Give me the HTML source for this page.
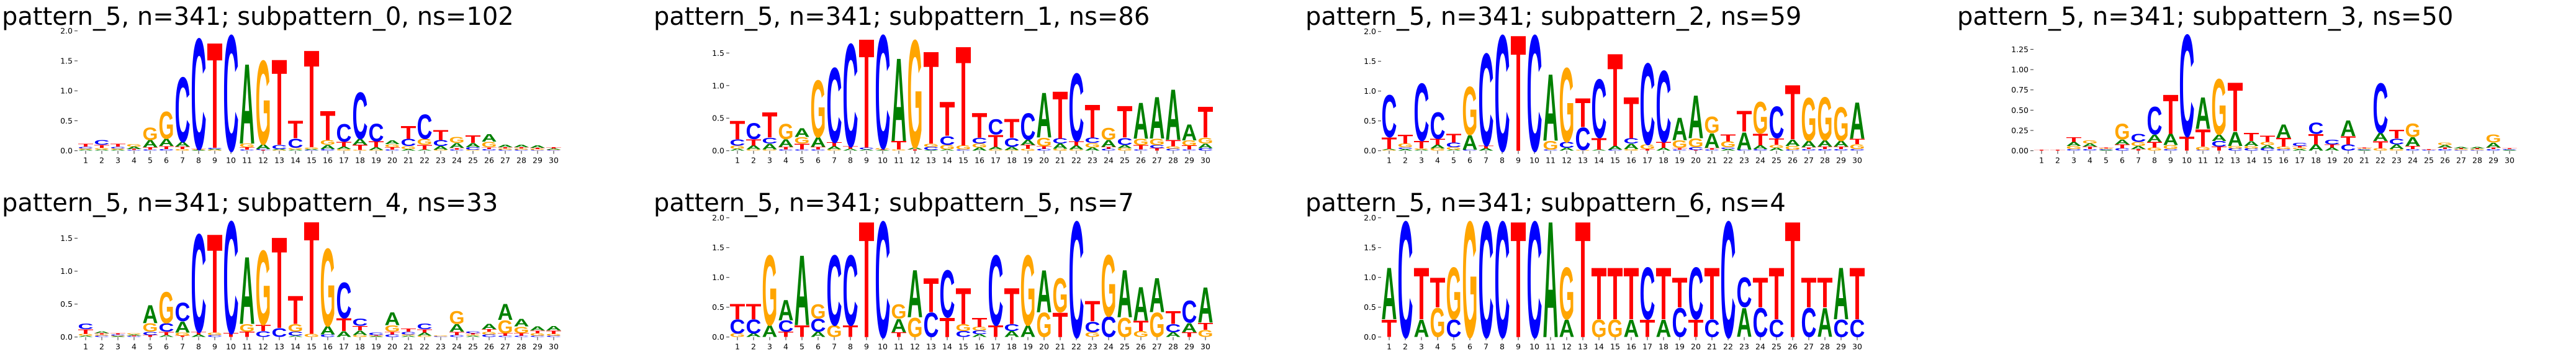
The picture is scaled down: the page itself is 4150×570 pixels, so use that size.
<!DOCTYPE html>
<html><head><meta charset="utf-8">
<style>
html,body{margin:0;padding:0;background:#fff;width:4150px;height:570px;overflow:hidden;}
svg{display:block;}
</style></head>
<body>
<svg id="fig" width="4150" height="570" viewBox="0 0 4150 570" xmlns="http://www.w3.org/2000/svg"></svg>
<script>
const titles = ["pattern_5, n=341; subpattern_0, ns=102","pattern_5, n=341; subpattern_1, ns=86","pattern_5, n=341; subpattern_2, ns=59","pattern_5, n=341; subpattern_3, ns=50","pattern_5, n=341; subpattern_4, ns=33","pattern_5, n=341; subpattern_5, ns=7","pattern_5, n=341; subpattern_6, ns=4"];
const positions = [1,2,3,4,5,6,7,8,9,10,11,12,13,14,15,16,17,18,19,20,21,22,23,24,25,26,27,28,29,30];
const ticks0 = ["0.0","0.5","1.0","1.5","2.0"];
const ticks1 = ["0.0","0.5","1.0","1.5"];
const ticks3 = ["0.00","0.25","0.50","0.75","1.00","1.25"];
const p1A=[.02,.02,.02,.04,.12,.12,.08,.01,.02,0,1.37,.08,.02,.02,.02,.07,.04,.1,.05,.06,.03,.02,.06,.08,.07,.13,.04,.04,.04,.02];
const p1C=[.03,.08,.03,.01,.02,.03,1.11,1.9,.02,1.99,.02,.02,.07,.16,.01,.03,.3,.8,.3,.02,.12,.42,.1,.02,.04,.03,.02,.02,.01,.01];
const p1G=[.02,.03,.02,.04,.21,.47,.03,.01,.01,0,.06,1.44,.01,.03,.03,.08,.03,.01,.01,.05,.05,.1,.02,.1,.02,.09,.02,.02,.02,.01];
const p1T=[.05,.05,.05,.02,.04,.05,.04,.01,1.81,0,.04,.01,1.47,.3,1.67,.5,.08,.09,.1,.04,.22,.08,.17,.03,.13,.03,.02,.02,.02,.02];
const p2A=[.03,.06,.09,.12,.14,.15,.05,.03,.02,.01,1.31,.03,.01,.02,0,.05,.04,.05,.08,.71,.08,.06,.05,.11,.05,.57,.66,.8,.25,.07];
const p2C=[.1,.25,.09,.02,.02,.02,1.18,1.62,.03,1.79,0,0,.05,.14,.02,.09,.24,.14,.42,.03,.08,1.07,.08,.03,.11,.02,.05,.03,.02,.04];
const p2G=[.05,.02,.02,.24,.1,.9,.02,0,0,.02,.02,1.7,.05,.07,.06,.06,.02,.01,.03,.13,.03,.02,.07,.19,.04,.1,.1,.04,.08,.09];
const p2T=[.29,.1,.4,.04,.09,.04,.06,.04,1.72,.01,.13,.02,1.46,.54,1.57,.39,.19,.3,.06,.04,.75,.07,.52,.03,.5,.07,.04,.1,.06,.49];
const p3A=[.02,.03,.02,.06,.02,.25,.04,0,0,0,1.15,.05,0,.02,.06,.09,0,.05,.39,.74,.25,.03,.3,.06,.05,.11,.11,.11,.1,.63];
const p3C=[.73,.03,.99,.46,.08,.02,1.59,2.0,0,2.0,.02,.1,.39,1.01,.02,.09,1.4,1.23,.02,.05,.02,.03,.02,.03,.55,.02,.03,.03,.03,.03];
const p3G=[.01,.06,.02,.04,.04,.83,0,0,0,0,.15,1.28,.01,0,0,.03,.08,0,.13,.15,.28,.1,0,.55,.05,.06,.74,.74,.58,.08];
const p3T=[.2,.15,.13,.1,.15,0,.05,0,2.0,0,0,0,.5,.2,1.6,.71,.03,.1,.03,.01,.03,.12,.36,.2,.11,.94,.03,.04,.04,.09];
const p4A=[0,0,.05,.04,.01,.06,.04,.09,.14,0,.4,.08,.18,.06,.04,.17,.02,.08,.04,.2,.01,.1,.06,.11,0,.03,.02,.02,.06,.01];
const p4C=[0,0,.02,.02,.01,.03,.1,.35,.02,1.29,.01,.07,.03,.03,.03,.02,.04,.14,.06,.08,.01,.63,.07,.02,.01,.02,.01,.01,.02,.01];
const p4G=[0,0,.04,.04,.01,.2,.05,.04,.05,0,.04,.7,.03,.03,.04,.03,.02,0,0,0,.01,.03,.02,.17,0,.03,.01,.01,.1,0];
const p4T=[.01,.01,.06,.03,.01,.05,.02,.07,.5,.18,.22,.05,.62,.1,.08,.11,.02,.13,.04,.1,.01,.09,.11,.04,.01,.02,.01,.01,.02,.01];
const p5A=[.02,.03,.01,.02,.28,.03,.17,.04,0,0,1.05,0,0,.02,0,.13,.09,.07,.01,.2,.02,.05,0,.12,.02,.08,.25,.12,.06,.07];
const p5C=[.09,.02,.02,.01,.05,.13,.29,1.53,.03,1.75,0,.09,.14,.06,0,.04,.56,.11,.04,.04,.04,.09,.01,.03,.03,.04,.02,.02,.02,.02];
const p5G=[.03,.02,.01,.02,.13,.49,.05,0,.04,0,.12,1.16,0,.12,.05,1.21,0,.03,.01,.1,.02,.02,.01,.2,.02,.04,.2,.1,.04,.03];
const p5T=[.07,.02,.02,.01,.03,.05,.02,.04,1.54,.06,.08,.1,1.42,.44,1.76,0,.2,.07,.01,.04,.05,.05,0,.05,.02,.04,.04,.04,.04,.05];
const p6A=[0,.06,.2,.35,1.21,.09,0,0,0,0,.23,.82,0,0,0,.05,0,.1,.2,.73,0,0,0,0,.82,.58,.59,.08,.16,.61];
const p6C=[.24,.24,0,.19,0,.22,1.21,1.21,0,2.0,0,0,.42,.82,.1,.06,1.21,.12,0,0,0,2.0,.18,.35,0,0,0,.14,.38,0];
const p6G=[.06,0,1.21,0,0,.25,.2,0,0,0,.25,.33,0,0,.12,.06,0,0,1.21,.42,.59,0,.08,1.06,.33,.1,.42,0,0,.12];
const p6T=[.26,.26,0,.09,.2,0,0,.2,2.0,0,.08,0,.59,.33,.62,.16,.2,.62,0,0,.42,0,.35,0,0,.18,0,.22,.08,.12];
const p7A=[.89,0,.3,0,0,0,0,0,0,0,2,.3,0,0,0,.3,0,.3,0,0,0,0,.5,0,0,0,0,.5,.89,0];
const p7C=[0,2,0,0,.3,0,2,2,0,2,0,0,0,0,0,0,.89,0,.5,.89,.3,2,.51,.5,.3,0,.5,0,.3,.3];
const p7G=[0,0,0,.5,.89,2,0,0,0,0,0,.89,0,.3,.3,0,0,0,0,0,0,0,0,0,0,0,0,0,0,0];
const p7T=[.3,0,.89,.51,0,0,0,0,2,0,0,0,2,.89,.89,.89,.3,.89,.51,.3,.89,0,0,.51,.89,2,.51,.51,0,.89];

const NS = "http://www.w3.org/2000/svg";
const svg = document.getElementById('fig');
const panels = [
  {A:p1A,C:p1C,G:p1G,T:p1T,ticks:ticks0,col:0,row:0},
  {A:p2A,C:p2C,G:p2G,T:p2T,ticks:ticks1,col:1,row:0},
  {A:p3A,C:p3C,G:p3G,T:p3T,ticks:ticks0,col:2,row:0},
  {A:p4A,C:p4C,G:p4G,T:p4T,ticks:ticks3,col:3,row:0},
  {A:p5A,C:p5C,G:p5G,T:p5T,ticks:ticks1,col:0,row:1},
  {A:p6A,C:p6C,G:p6G,T:p6T,ticks:ticks0,col:1,row:1},
  {A:p7A,C:p7C,G:p7G,T:p7T,ticks:ticks0,col:2,row:1}
];
const colors = {A:"#008000",C:"#0000ff",G:"#ffa500",T:"#ff0000"};
const letters = ["A","C","G","T"];
const STEP = 26.0, CAP = 71.6, AXH = 192;

function mk(tag, attrs, parent){
  const e = document.createElementNS(NS, tag);
  for (const k in attrs) e.setAttribute(k, attrs[k]);
  parent.appendChild(e);
  return e;
}

panels.forEach((p, pi) => {
  const ox = p.col * 1050;
  const oy = p.row * 300;
  const g = mk('g', {}, svg);
  
  
  const t = mk('text', {x: ox + 3, y: oy + 40, 'font-family': '"DejaVu Sans", "Liberation Sans", sans-serif', 'font-size': 40, fill: '#000'}, g);
  
  
  t.textContent = titles[pi];

  const x1 = ox + 138 + (p.col === 3 ? 1 : 0);
  const yBase = oy + 242.7;
  const totals = positions.map((_, i) => letters.reduce((s, L) => s + p[L][i], 0));
  const ymax = Math.max(...totals);
  const sc = AXH / ymax;
  const xPos = i => x1 + i * STEP;
  const yVal = v => yBase - v * sc;

  const axLeft = x1 - STEP / 2;
  p.ticks.forEach(lbl => {
    const v = parseFloat(lbl);
    const y = yVal(v);
    const tk = mk('line', {x1: axLeft - 5, x2: axLeft, y1: y, y2: y, stroke: '#333', 'stroke-width': 1}, g);
    
    
    const tl = mk('text', {x: axLeft - 8, y: y + 4.5, 'text-anchor': 'end', 'font-family': '"DejaVu Sans", sans-serif', 'font-size': 12.5, fill: '#000'}, g);
    
    
    tl.textContent = lbl;
  });
  positions.forEach((pos, i) => {
    const x = xPos(i);
    const tk = mk('line', {x1: x, x2: x, y1: yBase, y2: yBase + 5, stroke: '#333', 'stroke-width': 1}, g);
    
    
    const tl = mk('text', {x: x, y: yBase + 20, 'text-anchor': 'middle', 'font-family': '"DejaVu Sans", sans-serif', 'font-size': 12.5, fill: '#000'}, g);
    
    
    tl.textContent = String(pos);
  });
  positions.forEach((pos, i) => {
    const stack = letters.map(L => ({L, v: p[L][i]})).sort((a, b) => a.v - b.v);
    let acc = 0;
    stack.forEach(s => {
      const h = s.v * sc;
      const yb = yVal(acc);
      acc += s.v;
      if (h < 0.3) return;
      const w = STEP * 0.96;
      const el = mk('text', {
        x: 0, y: 0,
        'font-family': '"Liberation Sans", "DejaVu Sans", sans-serif',
        'font-weight': 'bold', 'font-size': 100,
        textLength: w, lengthAdjust: 'spacingAndGlyphs',
        fill: colors[s.L],
        transform: 'translate(' + (xPos(i) - w / 2) + ',' + yb + ') scale(1,' + (h / CAP) + ')'
      }, g);
      
      
      el.textContent = s.L;
    });
  });
});
</script>
</body></html>
